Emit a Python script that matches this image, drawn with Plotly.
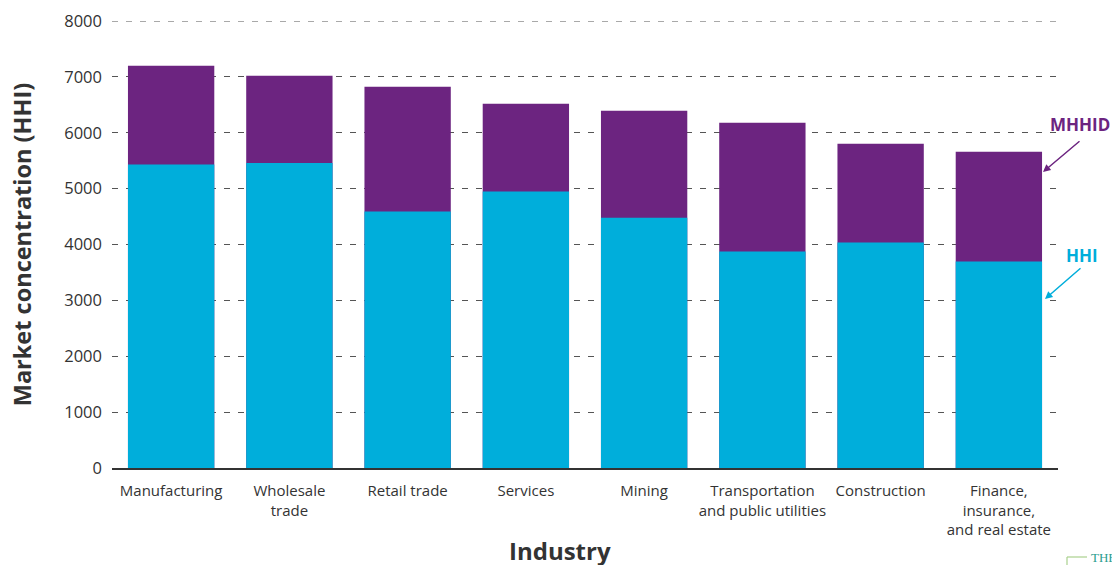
import plotly.graph_objects as go

industries = [
    "Manufacturing",
    "Wholesale<br>trade",
    "Retail trade",
    "Services",
    "Mining",
    "Transportation<br>and public utilities",
    "Construction",
    "Finance,<br>insurance,<br>and real estate",
]
hhi = [5430, 5460, 4590, 4950, 4480, 3875, 4035, 3695]
mhhid = [7200, 7020, 6825, 6520, 6395, 6180, 5805, 5660]
y_ticks = [0, 1000, 2000, 3000, 4000, 5000, 6000, 7000, 8000]

PURPLE = "#6C2480"
TEAL = "#00AEDB"
INK = "#333333"
FONT = "Open Sans"

W, H = 1112, 565
ML, MR, MT, MB = 112, 54, 21, 97

fig = go.Figure()
# MHHID drawn full height, HHI overlaid on top of it
fig.add_trace(go.Bar(x=industries, y=mhhid, name="MHHID", marker=dict(color=PURPLE, line=dict(width=0))))
fig.add_trace(go.Bar(x=industries, y=hhi, name="HHI", marker=dict(color=TEAL, line=dict(width=0))))

fig.update_layout(
    width=W,
    height=H,
    barmode="overlay",
    bargap=0.27,
    showlegend=False,
    plot_bgcolor="white",
    paper_bgcolor="white",
    margin=dict(l=ML, r=MR, t=MT, b=MB),
    font=dict(family=FONT, size=15, color=INK),
    xaxis=dict(
        showgrid=False,
        showline=True,
        linecolor=INK,
        linewidth=2,
        ticks="",
        ticklabelstandoff=8,
        tickfont=dict(size=15, color=INK),
        automargin=False,
    ),
    yaxis=dict(
        range=[0, 8000],
        tickvals=y_ticks,
        showgrid=True,
        gridcolor="#555555",
        gridwidth=1,
        griddash="6px,8px",
        zeroline=False,
        showline=False,
        ticks="",
        ticklabelstandoff=9,
        tickfont=dict(size=16.5, color=INK),
        title=dict(text="<b>Market concentration (HHI)</b>", font=dict(size=23.5, color=INK), standoff=26),
        automargin=False,
    ),
)

# gridline at the top of the range (not drawn by the axis at the edge)
fig.add_shape(type="line", xref="paper", yref="y", x0=0, x1=1, y0=8000, y1=8000,
              line=dict(color="#555555", width=1, dash="6px,8px"), layer="below")


def px_to_paper(px, py):
    # page pixel -> paper fraction of the plotting area
    return (px - ML) / (W - ML - MR), (H - MB - py) / (H - MB - MT)


# x-axis title, centred on the page
ix, iy = px_to_paper(W / 2 + 4, 550)
fig.add_annotation(text="<b>Industry</b>", x=ix, y=iy, xref="paper", yref="paper",
                   xanchor="center", yanchor="middle", showarrow=False,
                   font=dict(size=24, color=INK, family=FONT))

mx, my = px_to_paper(1080, 124)
hx, hy = px_to_paper(1082, 255)
fig.add_annotation(text="<b>MHHID</b>", x=mx, y=my, xref="paper", yref="paper",
                   xanchor="center", yanchor="middle",
                   showarrow=False, font=dict(size=17, color=PURPLE, family=FONT))
fig.add_annotation(text="<b>HHI</b>", x=hx, y=hy, xref="paper", yref="paper",
                   xanchor="center", yanchor="middle",
                   showarrow=False, font=dict(size=17, color=TEAL, family=FONT))

# arrows pointing at the last bar's segments (tail offset in pixels)
tx1, ty1 = px_to_paper(1043, 172)
fig.add_annotation(x=tx1, y=ty1, ax=38, ay=-32, xref="paper", yref="paper",
                   text="", showarrow=True, arrowhead=2, arrowsize=1, arrowwidth=1.5, arrowcolor=PURPLE)
tx2, ty2 = px_to_paper(1045, 299)
fig.add_annotation(x=tx2, y=ty2, ax=37, ay=-32, xref="paper", yref="paper",
                   text="", showarrow=True, arrowhead=2, arrowsize=1, arrowwidth=1.5, arrowcolor=TEAL)

# publisher mark in the bottom-right corner
lx0, ly0 = px_to_paper(1067, 557)
lx1, _ = px_to_paper(1087, 557)
_, ly1 = px_to_paper(1067, 570)
fig.add_shape(type="line", xref="paper", yref="paper", x0=lx0, x1=lx1, y0=ly0, y1=ly0,
              line=dict(color="#A9D18E", width=1.2))
fig.add_shape(type="line", xref="paper", yref="paper", x0=lx0, x1=lx0, y0=ly0, y1=ly1,
              line=dict(color="#A9D18E", width=1.2))
gx, gy = px_to_paper(1089, 557)
fig.add_annotation(text="THE", x=gx, y=gy, xref="paper", yref="paper",
                   xanchor="left", yanchor="middle", showarrow=False,
                   font=dict(size=13, color="#2A9D8F", family="Liberation Serif"))

fig.write_html("out.html")
